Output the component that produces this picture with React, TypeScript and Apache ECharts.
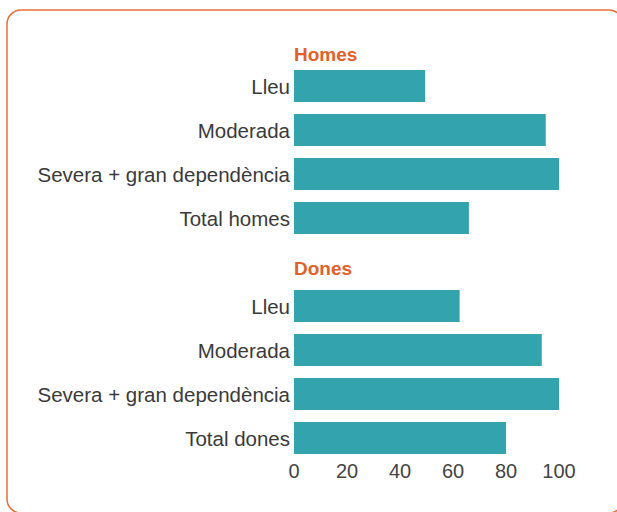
import React, { useEffect, useRef } from "react";
import * as echarts from "echarts";

const groupTitles = ["Homes", "Dones"];
const homesLabels = ["Lleu", "Moderada", "Severa + gran dependència", "Total homes"];
const homesValues = [49.5, 95, 100, 66];
const donesLabels = ["Lleu", "Moderada", "Severa + gran dependència", "Total dones"];
const donesValues = [62.5, 93.5, 100, 80];
const xTicks = { min: 0, max: 100, interval: 20 };

const FONT = "'Liberation Sans', Arial, Helvetica, sans-serif";

export default function App() {
  const ref = useRef<HTMLDivElement>(null);
  useEffect(() => {
    if (!ref.current) return;
    const chart = echarts.init(ref.current, null, { renderer: "svg" });
    const rows: { label: string; value: number | null; header: boolean }[] = [];
    const groups = [
      { title: groupTitles[0], labels: homesLabels, values: homesValues },
      { title: groupTitles[1], labels: donesLabels, values: donesValues },
    ];
    groups.forEach((g) => {
      rows.push({ label: g.title, value: null, header: true });
      g.labels.forEach((l, i) => rows.push({ label: l, value: g.values[i], header: false }));
    });
    chart.setOption({
      animation: false,
      grid: { left: 294, right: 58, top: 20, bottom: 52, containLabel: false },
      xAxis: {
        type: "value",
        min: xTicks.min,
        max: xTicks.max,
        interval: xTicks.interval,
        splitLine: { show: false },
        axisLine: { show: false },
        axisTick: { show: false },
        axisLabel: { fontSize: 20, color: "#444", fontFamily: FONT, margin: 1 },
      },
      yAxis: {
        type: "category",
        inverse: true,
        data: rows.map((_, i) => String(i)),
        axisLine: { show: false },
        axisTick: { show: false },
        axisLabel: {
          fontSize: 20.5,
          color: "#3a3a3a",
          fontFamily: FONT,
          margin: 4,
          formatter: (_v: string, i: number) => (rows[i].header ? "" : rows[i].label),
        },
      },
      series: [
        {
          type: "bar",
          data: rows.map((r) => (r.value === null ? "-" : r.value)),
          barWidth: 32,
          itemStyle: { color: "#33a3ae" },
        },
      ],
    });
    const x0 = chart.convertToPixel({ xAxisIndex: 0 }, 0) as number;
    const headerOffsets = [12, 6];
    let h = 0;
    const headerTexts: any[] = [];
    rows.forEach((r, i) => {
      if (!r.header) return;
      const y = chart.convertToPixel({ yAxisIndex: 0 }, String(i)) as number;
      headerTexts.push({
        type: "text",
        x: x0,
        y: y + headerOffsets[h++],
        style: {
          text: r.label,
          fill: "#e2612a",
          font: `bold 19px ${FONT}`,
          textAlign: "left",
          textVerticalAlign: "middle",
        },
      });
    });
    chart.setOption({
      graphic: [
        {
          type: "rect",
          shape: { x: 7, y: 10, width: 616, height: 503, r: 14 },
          style: { fill: "none", stroke: "#e8703a", lineWidth: 1.5 },
          silent: true,
        },
        ...headerTexts,
      ],
    });
    return () => chart.dispose();
  }, []);
  return (
    <div
      ref={ref}
      style={{ position: "fixed", left: 0, top: 0, width: 617, height: 512, background: "#fff" }}
    />
  );
}
